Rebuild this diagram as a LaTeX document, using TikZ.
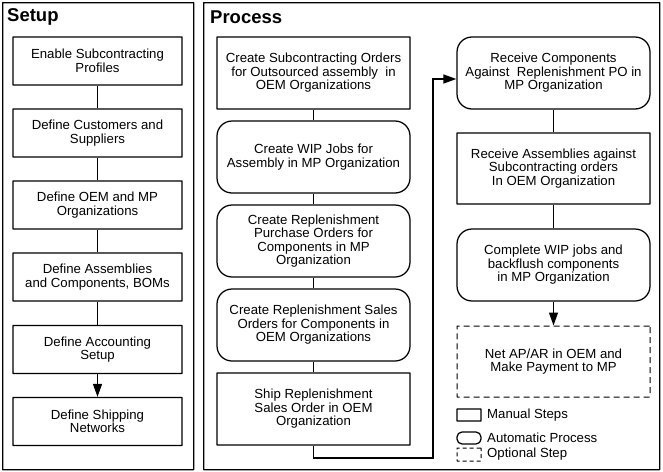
\documentclass[tikz,border=0pt]{standalone}
\usepackage{fontspec}
\setmainfont{Liberation Sans}
\usepackage{xcolor}
\usetikzlibrary{arrows.meta}

\tikzset{
  stepbox/.style={shape=rectangle, draw, fill=white, line width=1.25pt, align=center,
    rounded corners=0.3pt, font=\fontsize{13.2}{13.5}\selectfont},
  setupbox/.style={stepbox, minimum width=169pt, minimum height=48pt},
  manualbox/.style={stepbox, minimum width=193pt, minimum height=72pt},
  autobox/.style={manualbox, rounded corners=15pt},
  optbox/.style={manualbox, line width=1pt, dash pattern=on 6pt off 4pt},
  framebox/.style={shape=rectangle, draw, line width=1.25pt, rounded corners=0.3pt, anchor=north west},
  titletext/.style={anchor=west, font=\fontsize{18.5}{20}\selectfont\bfseries},
  legendtext/.style={anchor=west, font=\fontsize{13.2}{14}\selectfont},
  link/.style={line width=1.25pt, draw},
  tip/.style={-{Triangle[length=13pt,width=9pt]}}
}

\begin{document}
\begin{tikzpicture}[inner sep=0pt]
\useasboundingbox (0pt,0pt) rectangle (663pt,-471pt);
% frames
\node (setupframe) [framebox, minimum width=191pt, minimum height=467pt, at={(2pt,-2pt)}] {};
\node (processframe) [framebox, minimum width=456pt, minimum height=467pt, at={(203pt,-2pt)}] {};
\node (setuptitle) [titletext, at={(7pt,-17pt)}] {Setup};
\node (processtitle) [titletext, at={(210pt,-17pt)}] {Process};

% setup steps
\node (s0) [setupbox, at={(97.5pt,-61pt)}] {Enable Subcontracting\\Profiles};
\node (s1) [setupbox, at={(97.5pt,-133pt)}] {Define Customers and\\Suppliers};
\node (s2) [setupbox, at={(97.5pt,-205pt)}] {Define OEM and MP\\Organizations};
\node (s3) [setupbox, at={(97.5pt,-277pt)}] {Define Assemblies\\and Components, BOMs};
\node (s4) [setupbox, at={(97.5pt,-349.5pt)}] {Define Accounting\\Setup};
\node (s5) [setupbox, at={(97.5pt,-421.5pt)}] {Define Shipping\\Networks};

% process steps
\node (p0) [manualbox, at={(313.5pt,-73pt)}] {Create Subcontracting Orders\\for Outsourced assembly~ in\\OEM Organizations};
\node (p1) [autobox, at={(313.5pt,-157pt)}] {Create WIP Jobs for\\Assembly in MP Organization};
\node (p2) [autobox, at={(313.5pt,-241pt)}] {Create Replenishment\\Purchase Orders for\\Components in MP\\Organization};
\node (p3) [autobox, at={(313.5pt,-325pt)}] {Create Replenishment Sales\\Orders for Components in\\OEM Organizations};
\node (p4) [manualbox, at={(313.5pt,-409pt)}] {Ship Replenishment\\Sales Order in OEM\\Organization};
\node (r0) [autobox, at={(553.5pt,-73pt)}] {Receive Components\\Against~ Replenishment PO in\\MP Organization};
\node (r1) [manualbox, at={(553.5pt,-168.5pt)}, minimum height=71pt] {Receive Assemblies against\\Subcontracting orders\\In OEM Organization};
\node (r2) [autobox, at={(553.5pt,-265pt)}] {Complete WIP jobs and\\backflush components\\in MP Organization};
\node (r3) [optbox, at={(553.5pt,-361.5pt)}, minimum height=71pt] {Net AP/AR in OEM and\\Make Payment to MP};

% legend
\node (l0) [stepbox, minimum width=24pt, minimum height=12pt, at={(469pt,-415pt)}] {};
\node (l1) [stepbox, minimum width=24pt, minimum height=12pt, rounded corners=5pt, at={(469pt,-438pt)}] {};
\node (l2) [stepbox, line width=1pt, minimum width=24pt, minimum height=13pt, dash pattern=on 4pt off 3pt, at={(469pt,-454.5pt)}] {};
\node (t0) [legendtext, at={(487pt,-415pt)}] {Manual Steps};
\node (t1) [legendtext, at={(487pt,-438pt)}] {Automatic Process};
\node (t2) [legendtext, at={(487pt,-454.5pt)}] {Optional Step};

\coordinate (turn) at (433pt,-458pt);

\path [link](s0)--(s1);
\path [link](s1)--(s2);
\path [link](s2)--(s3);
\path [link](s3)--(s4);
\path [link,tip](s4)--(s5);

\path [link](p0)--(p1);
\path [link](p1)--(p2);
\path [link](p2)--(p3);
\path [link](p3)--(p4);
\path [link,tip](p4.south)|-(turn)|-([yshift=-6pt]r0.west);

\path [link](r0)--(r1);
\path [link](r1)--(r2);
\path [link,tip](r2)--(r3);
\end{tikzpicture}
\end{document}
